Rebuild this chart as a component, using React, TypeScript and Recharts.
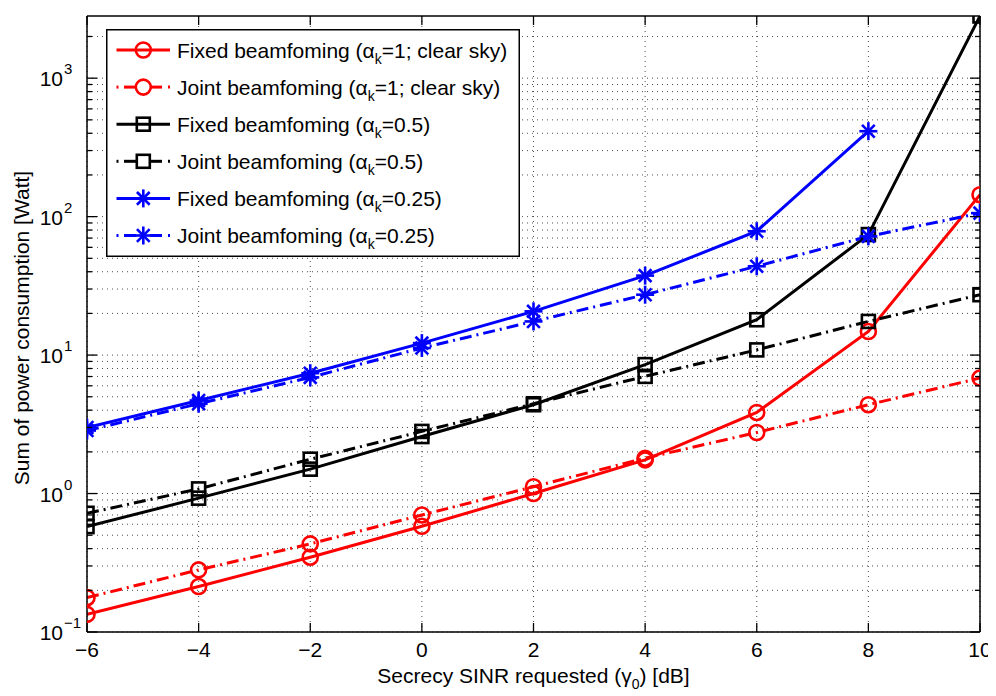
import React from 'react';
import { LineChart, Line, XAxis, YAxis, CartesianGrid, Legend } from 'recharts';

// ---------- data ----------
const sinrDb = [-6, -4, -2, 0, 2, 4, 6, 8, 10];
const redFixed = [0.134, 0.213, 0.347, 0.58, 1.0, 1.75, 3.85, 14.8, 144];
const redJoint = [0.177, 0.281, 0.433, 0.7, 1.12, 1.8, 2.76, 4.38, 6.83];
const blackFixed = [0.577, 0.926, 1.5, 2.58, 4.38, 8.53, 18.0, 74.2, 2812];
const blackJoint = [0.72, 1.08, 1.77, 2.81, 4.45, 7.02, 10.9, 17.5, 27.3];
const blueFixed: (number | null)[] = [3.0, 4.7, 7.4, 12.2, 20.7, 37.5, 78.4, 414, null];
const blueJoint = [2.85, 4.45, 6.9, 11.25, 17.5, 27.3, 43.8, 72, 106];

const xTicks = [-6, -4, -2, 0, 2, 4, 6, 8, 10];
const yDecades = [0.1, 1, 10, 100, 1000];
const yMin = 0.1;
const yMax = Math.max(...blackFixed);
const yAllTicks: number[] = [];
yDecades.forEach((d) => {
  for (let m = 1; m <= 9; m++) {
    const v = +(d * m).toPrecision(6);
    if (v <= yMax) yAllTicks.push(v);
  }
});

const data = sinrDb.map((x, i) => ({
  x,
  redFixed: redFixed[i],
  redJoint: redJoint[i],
  blackFixed: blackFixed[i],
  blackJoint: blackJoint[i],
  blueFixed: blueFixed[i],
  blueJoint: blueJoint[i],
}));

const FONT = '"Liberation Sans", Arial, Helvetica, sans-serif';
const DASHDOT = '12 5 2 5';

type Shape = 'circle' | 'square' | 'star';

const Marker = ({ shape, color, cx, cy }: { shape: Shape; color: string; cx: number; cy: number }) => {
  if (shape === 'circle') {
    return <circle cx={cx} cy={cy} r={7.5} fill="none" stroke={color} strokeWidth={2.6} />;
  }
  if (shape === 'square') {
    return <rect x={cx - 6.5} y={cy - 6.5} width={13} height={13} fill="none" stroke={color} strokeWidth={2.6} />;
  }
  const r = 9;
  const d = r * Math.SQRT1_2;
  return (
    <g stroke={color} strokeWidth={2.6} strokeLinecap="butt">
      <line x1={cx - r} y1={cy} x2={cx + r} y2={cy} />
      <line x1={cx} y1={cy - r} x2={cx} y2={cy + r} />
      <line x1={cx - d} y1={cy - d} x2={cx + d} y2={cy + d} />
      <line x1={cx - d} y1={cy + d} x2={cx + d} y2={cy - d} />
    </g>
  );
};

const makeDot = (shape: Shape, color: string, name: string) => (props: any) => {
  const { cx, cy, index } = props;
  const key = `${name}-${index}`;
  if (cx == null || cy == null || !isFinite(cx) || !isFinite(cy) || props.value == null) return <g key={key} />;
  return (
    <g key={key}>
      <Marker shape={shape} color={color} cx={cx} cy={cy} />
    </g>
  );
};

const isMajor = (v: number) => {
  const l = Math.log10(v);
  return Math.abs(l - Math.round(l)) < 1e-6;
};
const fmtNum = (n: number) => (n < 0 ? '\u2212' + Math.abs(n) : String(n));

const BottomTick = (props: any) => {
  const { x, y, payload } = props;
  return (
    <g>
      <line x1={x} y1={y} x2={x} y2={y - 9} stroke="#000" strokeWidth={1.3} />
      <text x={x} y={y + 25} textAnchor="middle" fontSize={21} fontFamily={FONT} fill="#000">
        {fmtNum(payload.value)}
      </text>
    </g>
  );
};

const TopTick = (props: any) => {
  const { x, y } = props;
  return <line x1={x} y1={y} x2={x} y2={y + 9} stroke="#000" strokeWidth={1.3} />;
};

const LeftTick = (props: any) => {
  const { x, y, payload } = props;
  const v = payload.value;
  if (!isMajor(v)) return <line x1={x} y1={y} x2={x + 5} y2={y} stroke="#000" strokeWidth={1.3} />;
  const e = Math.round(Math.log10(v));
  return (
    <g>
      <line x1={x} y1={y} x2={x + 10} y2={y} stroke="#000" strokeWidth={1.3} />
      <text x={x - 24} y={y + 8} textAnchor="end" fontSize={21} fontFamily={FONT} fill="#000">
        10
      </text>
      <text x={x - 23} y={y - 4} textAnchor="start" fontSize={15} fontFamily={FONT} fill="#000">
        {fmtNum(e)}
      </text>
    </g>
  );
};

const RightTick = (props: any) => {
  const { x, y, payload } = props;
  const len = isMajor(payload.value) ? 10 : 5;
  return <line x1={x} y1={y} x2={x - len} y2={y} stroke="#000" strokeWidth={1.3} />;
};

const legendItems: { name: string; param: string; color: string; dashed: boolean; shape: Shape }[] = [
  { name: 'Fixed beamfoming (', param: '=1; clear sky)', color: '#ff0000', dashed: false, shape: 'circle' },
  { name: 'Joint beamfoming (', param: '=1; clear sky)', color: '#ff0000', dashed: true, shape: 'circle' },
  { name: 'Fixed beamfoming (', param: '=0.5)', color: '#000000', dashed: false, shape: 'square' },
  { name: 'Joint beamfoming (', param: '=0.5)', color: '#000000', dashed: true, shape: 'square' },
  { name: 'Fixed beamfoming (', param: '=0.25)', color: '#0000ff', dashed: false, shape: 'star' },
  { name: 'Joint beamfoming (', param: '=0.25)', color: '#0000ff', dashed: true, shape: 'star' },
];

const LEG_W = 414;
const LEG_H = 228;

const LegendBox = () => (
  <svg width={LEG_W} height={LEG_H} style={{ display: 'block' }}>
    <rect x={0.75} y={0.75} width={LEG_W - 1.5} height={LEG_H - 1.5} fill="#fff" stroke="#000" strokeWidth={1.5} />
    {legendItems.map((it, i) => {
      const cy = 21 + i * 37.1;
      return (
        <g key={i}>
          {it.dashed ? (
            <g stroke={it.color} strokeWidth={3}>
              <line x1={10.5} y1={cy} x2={12.5} y2={cy} />
              <line x1={18} y1={cy} x2={30} y2={cy} />
              <line x1={44} y1={cy} x2={56} y2={cy} />
              <line x1={62} y1={cy} x2={64} y2={cy} />
            </g>
          ) : (
            <line x1={10.5} y1={cy} x2={64} y2={cy} stroke={it.color} strokeWidth={3} />
          )}
          <Marker shape={it.shape} color={it.color} cx={37.3} cy={cy} />
          <text x={71} y={cy + 7.5} fontSize={21} fontFamily={FONT} fill="#000">
            {it.name}
            {'\u03b1'}
            <tspan dy={6} fontSize={14}>k</tspan>
            <tspan dy={-6}>{it.param}</tspan>
          </text>
        </g>
      );
    })}
  </svg>
);

const series = [
  { key: 'redFixed', color: '#ff0000', dashed: false, shape: 'circle' as Shape },
  { key: 'redJoint', color: '#ff0000', dashed: true, shape: 'circle' as Shape },
  { key: 'blackFixed', color: '#000000', dashed: false, shape: 'square' as Shape },
  { key: 'blackJoint', color: '#000000', dashed: true, shape: 'square' as Shape },
  { key: 'blueFixed', color: '#0000ff', dashed: false, shape: 'star' as Shape },
  { key: 'blueJoint', color: '#0000ff', dashed: true, shape: 'star' as Shape },
];

export default function App() {
  return (
    <div style={{ width: 988, height: 688, position: 'relative', fontFamily: FONT }}>
      <LineChart width={988} height={688} data={data} margin={{ top: 0, right: 8, bottom: 8, left: 0 }}>
        <CartesianGrid
          xAxisId="b"
          yAxisId="l"
          horizontalValues={yAllTicks}
          verticalValues={xTicks}
          stroke="#000"
          strokeOpacity={0.7}
          strokeWidth={1}
          strokeDasharray="1 4"
        />
        <XAxis
          xAxisId="b"
          dataKey="x"
          type="number"
          domain={[-6, 10]}
          ticks={xTicks}
          interval={0}
          allowDataOverflow
          orientation="bottom"
          height={56}
          tickSize={0}
          tickMargin={0}
          tickLine={false}
          axisLine={{ stroke: '#000', strokeWidth: 1.5 }}
          tick={BottomTick}
          label={{
            content: () => (
              <text x={525.5} y={675} textAnchor="middle" fontSize={21} fontFamily={FONT} fill="#000">
                Secrecy SINR requested ({'\u03b3'}
                <tspan dy={6} fontSize={14}>0</tspan>
                <tspan dy={-6}>) [dB]</tspan>
              </text>
            ),
          }}
        />
        <XAxis
          xAxisId="t"
          dataKey="x"
          type="number"
          domain={[-6, 10]}
          ticks={xTicks}
          interval={0}
          allowDataOverflow
          orientation="top"
          height={8}
          tickSize={0}
          tickMargin={0}
          tickLine={false}
          axisLine={{ stroke: '#000', strokeWidth: 1.5 }}
          tick={TopTick}
        />
        <YAxis
          yAxisId="l"
          orientation="left"
          width={79}
          scale="log"
          type="number"
          domain={[yMin, yMax]}
          ticks={yAllTicks}
          interval={0}
          allowDataOverflow
          tickSize={0}
          tickMargin={0}
          tickLine={false}
          axisLine={{ stroke: '#000', strokeWidth: 1.5 }}
          tick={LeftTick}
          label={{
            content: () => (
              <text
                x={0}
                y={0}
                transform="translate(21,320) rotate(-90)"
                textAnchor="middle"
                fontSize={21}
                fontFamily={FONT}
                fill="#000"
              >
                Sum of power consumption [Watt]
              </text>
            ),
          }}
        />
        <YAxis
          yAxisId="r"
          orientation="right"
          width={8}
          scale="log"
          type="number"
          domain={[yMin, yMax]}
          ticks={yAllTicks}
          interval={0}
          allowDataOverflow
          tickSize={0}
          tickMargin={0}
          tickLine={false}
          axisLine={{ stroke: '#000', strokeWidth: 1.5 }}
          tick={RightTick}
        />
        {series.map((s) => (
          <Line
            key={s.key}
            xAxisId="b"
            yAxisId="l"
            type="linear"
            dataKey={s.key}
            stroke={s.color}
            strokeWidth={3}
            strokeDasharray={s.dashed ? DASHDOT : undefined}
            dot={makeDot(s.shape, s.color, s.key)}
            activeDot={false}
            isAnimationActive={false}
            connectNulls={false}
          />
        ))}
        <Legend
          layout="vertical"
          align="center"
          verticalAlign="middle"
          wrapperStyle={{ position: 'absolute', left: 98, top: 21, width: LEG_W, height: LEG_H }}
          content={() => <LegendBox />}
        />
      </LineChart>
    </div>
  );
}
